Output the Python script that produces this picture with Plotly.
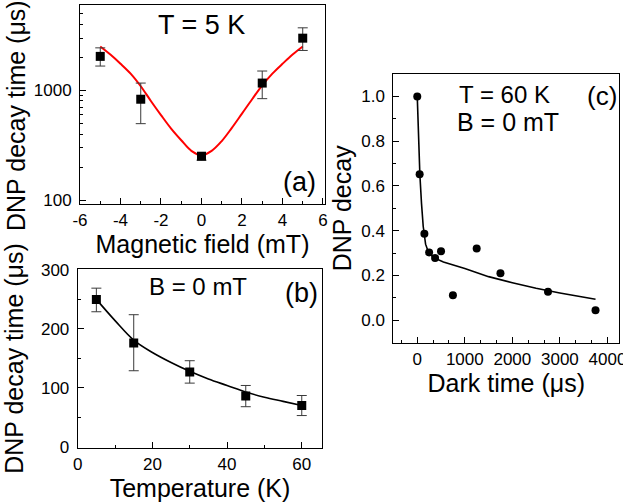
import plotly.graph_objects as go

# ---------- Panel (a): DNP decay time vs magnetic field, T = 5 K ----------
field_mT = [-5, -3, 0, 3, 5]
decay_a = [2040, 830, 251, 1165, 2990]
err_a_plus = [400, 335, 14, 335, 725]
err_a_minus = [375, 333, 20, 325, 680]

fit_a_x = [-5, -4.5, -4, -3.5, -3, -2.5, -2, -1.5, -1, -0.5, 0,
           0.5, 1, 1.5, 2, 2.5, 3, 3.5, 4, 4.5, 5]
fit_a_y = [2510, 2120, 1750, 1420, 1090, 800, 595, 448, 351, 281, 256,
           281, 345, 455, 614, 830, 1110, 1420, 1745, 2120, 2510]

a_xtickvals = [-6, -4, -2, 0, 2, 4, 6]
a_xticktext = ["-6", "-4", "-2", "0", "2", "4", "6"]
a_ytickvals = [100, 1000]
a_yminor = [200, 300, 400, 500, 600, 700, 800, 900, 2000, 3000, 4000, 5000]

# ---------- Panel (b): DNP decay time vs temperature, B = 0 mT ----------
temp_K = [5, 15, 30, 45, 60]
decay_b = [250, 176, 127, 86, 70]
err_b_plus = [19, 48, 19, 18, 17]
err_b_minus = [21, 47, 19, 18, 17]

fit_b_x = [5, 10, 15, 20, 25, 30, 35, 40, 45, 50, 55, 60]
fit_b_y = [250, 214, 181, 160, 143, 128, 115, 104, 93, 84, 77, 70]

# ---------- Panel (c): DNP decay vs dark time, T = 60 K, B = 0 mT ----------
dark_us = [0, 50, 150, 250, 375, 500, 750, 1250, 1750, 2750, 3750]
decay_c = [1.0, 0.652, 0.387, 0.303, 0.278, 0.308, 0.112, 0.321, 0.21, 0.127, 0.045]

fit_c_x = [0, 25, 55, 90, 125, 175, 230, 335, 550, 1000, 1500, 2000, 2500, 3000, 3750]
fit_c_y = [1.0, 0.82, 0.65, 0.52, 0.42, 0.34, 0.307, 0.281, 0.26, 0.231, 0.195, 0.168, 0.143, 0.122, 0.094]

FONT = "Liberation Sans, Arial, sans-serif"
W, H = 623, 502
TICK_SIZE = 17
TITLE_SIZE = 25

fig = go.Figure()

err_style = dict(type="data", symmetric=False, color="#3a3a3a", thickness=1, width=5)

# Panel (a)
fig.add_trace(go.Scatter(x=fit_a_x, y=fit_a_y, mode="lines", line=dict(color="#ff0000", width=2, shape="spline"),
                         xaxis="x", yaxis="y", showlegend=False, hoverinfo="skip"))
fig.add_trace(go.Scatter(x=field_mT, y=decay_a, mode="markers",
                         marker=dict(symbol="square", size=9, color="black"),
                         error_y=dict(array=err_a_plus, arrayminus=err_a_minus, **err_style),
                         xaxis="x", yaxis="y", showlegend=False))

# Panel (b)
fig.add_trace(go.Scatter(x=fit_b_x, y=fit_b_y, mode="lines", line=dict(color="black", width=1.6, shape="spline"),
                         xaxis="x2", yaxis="y2", showlegend=False, hoverinfo="skip"))
fig.add_trace(go.Scatter(x=temp_K, y=decay_b, mode="markers",
                         marker=dict(symbol="square", size=9, color="black"),
                         error_y=dict(array=err_b_plus, arrayminus=err_b_minus, **err_style),
                         xaxis="x2", yaxis="y2", showlegend=False))

# Panel (c)
fig.add_trace(go.Scatter(x=fit_c_x, y=fit_c_y, mode="lines", line=dict(color="black", width=1.6),
                         xaxis="x3", yaxis="y3", showlegend=False, hoverinfo="skip"))
fig.add_trace(go.Scatter(x=dark_us, y=decay_c, mode="markers",
                         marker=dict(symbol="circle", size=8, color="black"),
                         xaxis="x3", yaxis="y3", showlegend=False))

def px_dom(a, b, total):
    return [a / total, b / total]

def ydom(top, bottom):
    return [1 - bottom / H, 1 - top / H]

axis_common = dict(showline=True, linecolor="black", linewidth=1, mirror=True,
                   ticks="inside", ticklen=6, tickwidth=1, tickcolor="black",
                   showgrid=False, zeroline=False, automargin=False,
                   ticklabeloverflow="allow",
                   tickfont=dict(family=FONT, size=TICK_SIZE, color="black"),
                   title_font=dict(family=FONT, size=TITLE_SIZE, color="black"))
minor_common = dict(ticks="inside", ticklen=3, tickwidth=1, tickcolor="black", showgrid=False)

fig.update_layout(
    width=W, height=H,
    margin=dict(l=0, r=0, t=0, b=0),
    paper_bgcolor="white", plot_bgcolor="white",
    font=dict(family=FONT, color="black"),
    xaxis=dict(domain=px_dom(80, 325, W), anchor="y", range=[-6, 6.1],
               tickmode="array", tickvals=a_xtickvals, ticktext=a_xticktext,
               minor=dict(dtick=1, tick0=-6, **minor_common),
               title=dict(text="Magnetic field (mT)", standoff=3),
               ticklabelstandoff=1, **axis_common),
    yaxis=dict(domain=ydom(5, 204), anchor="x", type="log", range=[1.964, 3.778],
               tickmode="array", tickvals=a_ytickvals, ticktext=["100", "1000"],
               minor=dict(tickmode="array", tickvals=a_yminor, **minor_common),
               ticklabelstandoff=4, **axis_common),
    xaxis2=dict(domain=px_dom(77.7, 322.3, W), anchor="y2", range=[0, 65.5],
                dtick=20, tick0=0, minor=dict(dtick=10, tick0=0, **minor_common),
                title=dict(text="Temperature (K)", standoff=3),
                ticklabelstandoff=1, **axis_common),
    yaxis2=dict(domain=ydom(269.3, 447.7), anchor="x2", range=[-1.5, 301],
                dtick=100, tick0=0, minor=dict(dtick=50, tick0=0, **minor_common),
                title=dict(text="DNP decay time (μs)", standoff=13),
                ticklabelstandoff=4, **axis_common),
    xaxis3=dict(domain=px_dom(393.3, 619.3, W), anchor="y3", range=[-504, 4250],
                dtick=1000, tick0=0, minor=dict(dtick=1000 / 3, tick0=0, **minor_common),
                title=dict(text="Dark time (μs)", standoff=4),
                ticklabelstandoff=1, **axis_common),
    yaxis3=dict(domain=ydom(74, 342.7), anchor="x3", range=[-0.1, 1.1],
                dtick=0.2, tick0=0, tickformat=".1f", minor=dict(dtick=0.1, tick0=0, **minor_common),
                title=dict(text="DNP decay", standoff=2),
                ticklabelstandoff=4, **axis_common),
)

def ann(text, xpx, ypx, size, angle=0):
    fig.add_annotation(text=text, xref="paper", yref="paper", x=xpx / W, y=1 - ypx / H,
                       xanchor="center", yanchor="middle", showarrow=False, textangle=angle,
                       font=dict(family=FONT, size=size, color="black"))

# y-axis title of panel (a) (placed as text so it can sit below the panel centre like the original)
ann("DNP decay time (μs)", 16, 116, TITLE_SIZE, -90)

ann("T = 5 K", 201, 25, 27)
ann("(a)", 299, 182, 27)
ann("B = 0 mT", 198, 286, 24)
ann("(b)", 301, 293, 27)
ann("T = 60 K", 504, 94, 24)
ann("B = 0 mT", 508, 122, 25)
ann("(c)", 602, 96, 26)

fig.write_html("out.html", config={"displayModeBar": False},
               post_script="document.body.style.margin='0';document.body.style.padding='0';"
                           "document.documentElement.style.overflow='hidden';")
